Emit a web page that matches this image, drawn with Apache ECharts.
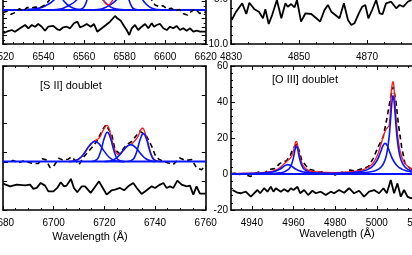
<!DOCTYPE html>
<html><head><meta charset="utf-8">
<script src="https://cdn.jsdelivr.net/npm/echarts@6/dist/echarts.min.js"></script>
<style>html,body{margin:0;padding:0;background:#fff}#c{width:412px;height:255px}</style>
</head><body><div id="c"></div>
<script>
// ---------- tick values ----------
const tlXMajor=[6520,6540,6560,6580,6600,6620];
const tlXMinor=[6525,6530,6535,6545,6550,6555,6565,6570,6575,6585,6590,6595,6605,6610,6615];
const tlYMajor=[-8,-6,-4,-2,0,2,4,6,8,10];
const tlYMinor=[-7,-5,-3,-1,1,3,5,7,9];
const trXMajor=[4830,4850,4870,4890];
const trXMinor=[4835,4840,4845,4855,4860,4865,4875,4880,4885];
const trYMajor=[-10,-5,0];
const trYMinor=[-9,-8,-7,-6,-4,-3,-2,-1];
const blXMajor=[6680,6700,6720,6740,6760];
const blXMinor=[6685,6690,6695,6705,6710,6715,6725,6730,6735,6745,6750,6755];
const blYMajor=[-8.4,-3.4,1.6,6.6,11.6,16.6];
const blYMinor=[];
const brXMajor=[4940,4960,4980,5000,5020];
const brXMinor=[4935,4945,4950,4955,4965,4970,4975,4985,4990,4995,5005,5010,5015,5025];
const brYMajor=[-20,0,20,40,60];
const brYMinor=[-16,-12,-8,-4,4,8,12,16,24,28,32,36,44,48,52,56];

// ---------- TL panel (H-alpha + [N II], only the bottom strip is visible) ----------
const tlResid=[[6520.1,-5.48],[6521.8,-5.11],[6524.3,-4.71],[6525.9,-5.11],[6528.4,-4.31],[6530.9,-3.53],[6532.5,-4.31],[6534.2,-3.53],[6535.8,-3.93],[6537.4,-3.29],[6539.1,-3.93],[6540.7,-4.87],[6542.3,-3.93],[6544.8,-3.76],[6546.8,-4.54],[6548.1,-4.71],[6549.7,-4.07],[6551.4,-3.93],[6553.1,-4.31],[6555.0,-3.13],[6556.7,-2.75],[6558.0,-4.07],[6559.6,-3.76],[6561.3,-3.29],[6563.3,-3.93],[6564.9,-3.29],[6566.5,-5.11],[6568.7,-4.31],[6570.8,-3.53],[6572.8,-2.75],[6575.3,-1.41],[6576.4,-1.95],[6578.1,-2.52],[6579.7,-3.76],[6581.0,-4.71],[6582.3,-5.88],[6583.5,-4.31],[6585.1,-3.53],[6586.7,-4.71],[6588.4,-3.93],[6590.1,-3.29],[6591.7,-4.31],[6593.4,-3.13],[6594.5,-3.93],[6595.8,-3.53],[6597.5,-3.29],[6599.1,-4.31],[6600.8,-4.71],[6602.4,-3.93],[6604.0,-4.31],[6605.7,-3.76],[6607.3,-4.71],[6608.9,-4.31],[6610.6,-4.87],[6612.3,-4.31],[6613.9,-5.11],[6615.6,-4.87],[6617.2,-5.11],[6620,-5.11]];
const tlData=[[6520,-0.6],[6522,-0.3],[6524,-1.0],[6526,-0.6],[6528,0.3],[6530,-0.2],[6532,0.6],[6534,0.5],[6536,0.7],[6538,0.5],[6540,1.0],[6542,1.8],[6544,3.0],[6546,6],[6550,12],[6560,20],[6570,8],[6580,20],[6590,6],[6593,2.6],[6595,1.2],[6597,0.8],[6599,1.0],[6601,0.2],[6603,0.4],[6605,-0.2],[6607,0.1],[6609,-0.9],[6611,-1.2],[6613,-0.3],[6615,0.2],[6617,-0.8],[6620,-0.5]];
const tlWingA1=[[6528,0.02],[6532,0.1],[6535,0.25],[6538.3,0.5],[6541,1.0],[6543.5,1.7],[6545.7,2.6],[6547,3.5]];
const tlWingA2=[[6548.5,3.5],[6549.6,2.4],[6551.5,1.4],[6553.5,0.7],[6556,0.25],[6560,0.05]];
const tlWingB1=[[6545,0.05],[6548,0.2],[6550.5,0.6],[6553,1.2],[6555.5,2.0],[6557.5,3.0],[6558.5,3.6]];
const tlWingC1=[[6557,0.05],[6559,0.3],[6560.3,1.0],[6561.3,2.2],[6562,3.5]];
const tlWingC2=[[6567.5,3.5],[6569.3,2.4],[6571.5,1.3],[6573.5,0.6],[6576,0.2],[6580,0.05]];
const tlWingD1=[[6565,0.05],[6568.5,0.25],[6571,0.7],[6573.5,1.4],[6576,2.4],[6577.5,3.5]];
const tlWingE2=[[6581.5,3.5],[6582.3,2.2],[6583.3,1.0],[6584.5,0.3],[6586.5,0.05]];
const tlWingF2=[[6587.5,3.5],[6589,2.35],[6591,1.2],[6593.5,0.4],[6596,0.1],[6600,0.02]];
const tlTotal=[[6567,4],[6569,2.6],[6571.8,1.2],[6574.5,2.6],[6576.5,4]];

// ---------- TR panel (H-beta residual) ----------
const trResid=[[4830.2,-7.30],[4831.5,-6.37],[4833.3,-5.43],[4834.5,-6.63],[4835.4,-5.36],[4836.9,-6.10],[4838.2,-6.37],[4839.4,-7.11],[4840.1,-6.10],[4841.1,-7.75],[4842.1,-6.74],[4843.5,-5.06],[4844.8,-7.11],[4846.0,-5.43],[4846.7,-5.81],[4847.7,-5.51],[4848.7,-5.88],[4849.4,-5.06],[4850.6,-7.49],[4851.9,-6.55],[4853.6,-6.63],[4855.1,-7.11],[4856.2,-7.49],[4857.5,-6.18],[4858.5,-5.62],[4859.5,-6.37],[4860.7,-6.74],[4861.9,-7.11],[4863.2,-5.43],[4864.4,-7.30],[4865.4,-7.87],[4866.3,-7.67],[4867.6,-6.55],[4868.6,-5.81],[4869.5,-5.62],[4870.4,-7.11],[4871.5,-6.18],[4872.7,-5.06],[4873.7,-6.55],[4874.6,-6.63],[4875.6,-5.43],[4877.1,-5.25],[4878.6,-5.99],[4879.6,-5.62],[4880.7,-5.81],[4882.0,-5.25],[4883.1,-5.06]];

// ---------- BL panel ([S II] doublet) ----------
const blData=[[6680,-0.1],[6682,-0.1],[6684,0.2],[6686,-0.2],[6688,0.1],[6690,-0.1],[6692,-0.35],[6694,-0.3],[6695.5,0.5],[6697,0.3],[6698.5,-1.0],[6700,-0.8],[6702,0.6],[6703.5,0.3],[6705.6,0.4],[6707,0.8],[6708.5,0.2],[6710,-0.5],[6712,0.9],[6715,2.4],[6717,3.5],[6719,5.3],[6720.6,6.4],[6722.9,4.7],[6724.2,2.1],[6726,1.4],[6728.8,2.95],[6730.8,3.5],[6734,5.3],[6736.7,4.4],[6738.7,2.65],[6740,1.2],[6741.5,0.4],[6743.3,0.05],[6745,-0.2],[6747.2,-0.5],[6749.8,0.64],[6752,0.2],[6754.5,0.35],[6756.4,-1.1],[6758.4,-1.4],[6760,-0.6]];
const blResid=[[6680,-3.82],[6682.8,-4.29],[6685.4,-3.99],[6688.7,-4.11],[6690.7,-3.99],[6692.0,-4.74],[6693.3,-4.57],[6694.9,-3.70],[6696.6,-4.17],[6697.9,-5.16],[6699.9,-5.16],[6701.4,-4.57],[6702.8,-3.59],[6704.1,-4.29],[6705.1,-4.17],[6706.8,-3.00],[6708.0,-4.57],[6709.3,-5.33],[6711.1,-4.29],[6712.4,-4.29],[6714.6,-5.43],[6716.0,-4.57],[6717.9,-3.42],[6719.0,-4.29],[6720.9,-5.73],[6722.9,-4.98],[6724.2,-4.86],[6726.2,-4.57],[6727.8,-4.98],[6729.4,-4.29],[6731.4,-3.70],[6732.8,-4.57],[6734.7,-5.61],[6736.7,-4.98],[6738.7,-4.29],[6740.0,-4.57],[6742.0,-3.99],[6743.3,-3.70],[6744.6,-4.57],[6745.9,-4.29],[6747.2,-4.57],[6748.8,-3.30],[6750.5,-3.99],[6752.5,-4.29],[6753.8,-4.17],[6755.1,-5.73],[6756.4,-4.29],[6757.7,-5.56],[6760,-5.56]];
const blS1=[[6706,0.02],[6708,0.12],[6710,0.49],[6712,1.41],[6714,2.70],[6716.3,3.5],[6718,3.03],[6720,1.78],[6722,0.71],[6724,0.19],[6726,0.03],[6728,0]];
const blS2=[[6715,0.02],[6717,0.36],[6718,1.10],[6719,2.47],[6720,4.11],[6721.2,5.1],[6722.4,4.11],[6723.4,2.47],[6724.4,1.10],[6725.4,0.36],[6727.4,0.02]];
const blS3=[[6720,0.01],[6722,0.09],[6724,0.39],[6726,1.14],[6728,2.22],[6730.4,2.95],[6732.4,2.42],[6734.4,1.34],[6736.4,0.50],[6738.4,0.13],[6740.4,0.02]];
const blS4=[[6729.2,0.02],[6731.2,0.35],[6732.2,1.04],[6733.2,2.35],[6734.2,3.92],[6735.4,4.86],[6736.6,3.92],[6737.6,2.35],[6738.6,1.04],[6739.6,0.35],[6741.6,0.02]];
const blTotal=[[6706,0.02],[6708,0.12],[6710,0.49],[6712,1.41],[6714,2.70],[6716,3.58],[6718,4.13],[6719.5,5.42],[6721,6.29],[6722.5,4.63],[6724,2.15],[6725.5,1.27],[6727,1.71],[6729,2.69],[6731,3.17],[6733,4.16],[6734.5,5.59],[6735,5.79],[6735.5,5.67],[6737,3.65],[6738.5,1.27],[6740,0.23],[6742,0.01],[6744,0]];

// ---------- BR panel ([O III] doublet) ----------
const brData=[[4930,0.3],[4932,0.4],[4934,-0.3],[4936,0.2],[4938,-0.8],[4939.5,-1.4],[4941,0.2],[4943.4,1.1],[4946,0.6],[4948.7,2.6],[4951,3.0],[4953.5,5.9],[4956.7,7.4],[4958.5,10.5],[4959.9,14.3],[4961.5,16.7],[4962.7,13.0],[4963.9,7.8],[4966.3,4.1],[4968,2.5],[4970.3,1.8],[4972,1.0],[4974.3,1.3],[4976,0.5],[4978.3,0.4],[4980,-0.6],[4982.3,1.3],[4984.5,0.6],[4987.1,2.2],[4989.5,1.6],[4992,2.6],[4994,3.2],[4995.9,4.1],[4998.3,8.7],[5000.7,15.2],[5003.1,20.7],[5004.7,30],[5006.7,43],[5007.9,48.5],[5009.2,40.2],[5010.3,28.2],[5011.9,15.2],[5013.5,5.9],[5015.9,3.2],[5018,2]];
const brResid=[[4930.7,-8.9],[4933.1,-10.4],[4934.7,-10.7],[4937.1,-9.8],[4939.5,-12.6],[4941.1,-10.7],[4942.7,-8.9],[4944.0,-10.7],[4945.9,-7.9],[4947.5,-9.8],[4949.1,-7.1],[4950.4,-9.8],[4951.5,-7.9],[4953.9,-9.8],[4955.5,-8.5],[4957.4,-9.8],[4958.7,-7.9],[4960.0,-8.9],[4961.9,-7.1],[4963.2,-10.7],[4965.1,-8.9],[4967.0,-11.7],[4969.1,-9.3],[4970.7,-10.7],[4973.1,-9.8],[4975.5,-11.7],[4977.9,-9.8],[4979.5,-10.7],[4981.9,-8.9],[4984.3,-10.4],[4986.7,-7.9],[4989.1,-10.7],[4991.5,-9.3],[4993.9,-12.6],[4996.3,-9.8],[4998.7,-8.9],[5001.1,-10.7],[5003.2,-7.9],[5004.8,-10.7],[5006.7,-3.3],[5008.3,-10.7],[5009.9,-5.2],[5011.5,-12.6],[5013.1,-8.9],[5014.7,-12.6],[5016.3,-13.5],[5018.2,-12.8]];
const brC1=[[4941.4,0.11],[4949.4,0.30],[4953.4,0.67],[4955.4,1.16],[4957.4,2.37],[4958.4,3.77],[4959.4,6.50],[4959.9,8.72],[4960.4,11.52],[4960.9,14.27],[4961.4,15.5],[4961.9,14.27],[4962.4,11.52],[4962.9,8.72],[4963.4,6.50],[4964.4,3.77],[4965.4,2.37],[4967.4,1.16],[4969.4,0.67],[4973.4,0.30],[4981.4,0.11]];
const brC2=[[4932.3,0.13],[4942.3,0.35],[4947.3,0.72],[4949.3,1.04],[4951.3,1.6],[4953.3,2.6],[4954.3,3.33],[4955.3,4.16],[4956.3,4.89],[4957.3,5.2],[4958.3,4.89],[4959.3,4.16],[4960.3,3.33],[4961.3,2.6],[4963.3,1.6],[4965.3,1.04],[4967.3,0.72],[4972.3,0.35],[4982.3,0.13]];
const brC3=[[4977.8,0.16],[4987.8,0.35],[4992.8,0.62],[4997.8,1.36],[4999.8,2.10],[5001.8,3.59],[5002.8,4.99],[5003.8,7.32],[5004.8,11.5],[5005.8,19.5],[5006.3,25.7],[5006.8,33.2],[5007.3,40.4],[5007.8,43.5],[5008.3,40.4],[5008.8,33.2],[5009.3,25.7],[5009.8,19.5],[5010.8,11.5],[5011.8,7.32],[5012.8,4.99],[5013.8,3.59],[5015.8,2.10],[5017.8,1.36]];
const brC4=[[4964,0.13],[4974,0.23],[4984,0.51],[4989,0.88],[4992,1.33],[4994,1.86],[4996,2.73],[4998,4.32],[5000,7.37],[5001,9.80],[5002,12.82],[5003,15.72],[5004,17],[5005,15.72],[5006,12.82],[5007,9.80],[5008,7.37],[5010,4.32],[5012,2.73],[5014,1.86],[5016,1.33],[5019,0.88]];
const brTotal=[[4930,0.22],[4940,0.44],[4945,0.76],[4950,1.65],[4953,3.14],[4955,5.05],[4957,7.30],[4958.5,8.85],[4959.5,11.0],[4960.4,14.89],[4961,17.61],[4961.4,18.16],[4962,16.08],[4962.6,12.37],[4963.5,7.80],[4965,4.07],[4967,2.12],[4970,1.28],[4975,0.85],[4980,0.81],[4985,0.99],[4990,1.56],[4993,2.29],[4996,3.78],[4998,5.77],[5000,9.52],[5002,16.39],[5003,20.55],[5004,23.8],[5005,25.6],[5006,27.3],[5006.8,43.7],[5007.3,49.4],[5007.8,51.3],[5008.3,47.2],[5008.8,39.1],[5009.5,27.9],[5010.5,17.2],[5012,9.48],[5014,5.24],[5017,2.7]];

// ---------- layout ----------
const FONT='Liberation Sans, Arial, Helvetica, sans-serif';
const panels=[
  {left:3, top:-32.5, width:202.7, height:76.5, x:[6520,6620], y:[-8,10], xM:tlXMajor, xm:tlXMinor, yM:tlYMajor, ym:tlYMinor, yLab:false, yFmt:null},
  {left:231, top:-45, width:204, height:89, x:[4830,4890], y:[-10,0], xM:trXMajor, xm:trXMinor, yM:trYMajor, ym:trYMinor, yLab:true, yFmt:v=>v.toFixed(1)},
  {left:3, top:66, width:202.7, height:144, x:[6680,6760], y:[-8.4,16.6], xM:blXMajor, xm:blXMinor, yM:blYMajor, ym:blYMinor, yLab:false, yFmt:null},
  {left:231, top:66, width:208.3, height:144, x:[4930,5030], y:[-20,60], xM:brXMajor, xm:brXMinor, yM:brYMajor, ym:brYMinor, yLab:true, yFmt:v=>String(v)}
];
const grid=[],xAxis=[],yAxis=[];
const lineBlack={color:'#000',width:1.6};
panels.forEach((p,g)=>{
  grid.push({left:p.left,top:p.top,width:p.width,height:p.height,containLabel:false,outerBoundsMode:'none'});
  const base={gridIndex:g,type:'value',splitLine:{show:false},axisPointer:{show:false}};
  ['bottom','top'].forEach(pos=>{
    xAxis.push(Object.assign({},base,{min:p.x[0],max:p.x[1],position:pos,
      axisLine:{show:true,onZero:false,lineStyle:lineBlack},
      axisTick:{show:true,inside:true,length:4,customValues:p.xM,lineStyle:{color:'#000',width:1}},
      axisLabel:{show:pos==='bottom',customValues:p.xM,color:'#000',fontFamily:FONT,fontSize:10,margin:8,hideOverlap:false,showMinLabel:true,showMaxLabel:true,formatter:v=>String(v)}}));
    xAxis.push(Object.assign({},base,{min:p.x[0],max:p.x[1],position:pos,
      axisLine:{show:false,onZero:false},
      axisTick:{show:p.xm.length>0,inside:true,length:2,customValues:p.xm,lineStyle:{color:'#000',width:1}},
      axisLabel:{show:false}}));
  });
  ['left','right'].forEach(pos=>{
    yAxis.push(Object.assign({},base,{min:p.y[0],max:p.y[1],position:pos,
      axisLine:{show:true,onZero:false,lineStyle:lineBlack},
      axisTick:{show:true,inside:true,length:4,customValues:p.yM,lineStyle:{color:'#000',width:1}},
      axisLabel:{show:p.yLab&&pos==='left',customValues:p.yM,color:'#000',fontFamily:FONT,fontSize:10,margin:3,showMinLabel:true,showMaxLabel:true,formatter:p.yFmt||(v=>'')}}));
    yAxis.push(Object.assign({},base,{min:p.y[0],max:p.y[1],position:pos,
      axisLine:{show:false,onZero:false},
      axisTick:{show:p.ym.length>0,inside:true,length:2,customValues:p.ym.length?p.ym:undefined,lineStyle:{color:'#000',width:1}},
      axisLabel:{show:false}}));
  });
});
const series=[];
function add(g,data,color,width,opts){
  series.push(Object.assign({type:'line',xAxisIndex:4*g,yAxisIndex:4*g,data:data,showSymbol:false,symbol:'none',
    silent:true,clip:true,animation:false,lineStyle:{color:color,width:width}},opts||{}));
}
const BLUE='#0a14ff',RED='#ff1a1a';
const dashStyle={color:'#000',width:1.6,type:[5,3.5]};
// TL
add(0,[[6520,0],[6620,0]],BLUE,2);
[tlWingA1,tlWingA2,tlWingB1,tlWingC1,tlWingC2,tlWingD1,tlWingE2,tlWingF2].forEach(c=>add(0,c,BLUE,1.6,{smooth:true}));
add(0,tlTotal,RED,1.3,{smooth:true});
add(0,tlData,'#000',1.6,{lineStyle:dashStyle});
add(0,tlResid,'#000',1.8);
// TR
add(1,trResid,'#000',1.8);
// BL
add(2,blData,'#000',1.6,{lineStyle:dashStyle});
add(2,blTotal,RED,1.3,{smooth:true});
[blS1,blS2,blS3,blS4].forEach(c=>add(2,c,BLUE,1.6,{smooth:true}));
add(2,[[6680,0],[6760,0]],BLUE,2);
add(2,blResid,'#000',1.8);
// BR
add(3,brData,'#000',1.6,{lineStyle:dashStyle});
add(3,brTotal,RED,1.3,{smooth:true});
[brC1,brC2,brC3,brC4].forEach(c=>add(3,c,BLUE,1.6,{smooth:true}));
add(3,[[4930,0],[5030,0]],BLUE,2);
add(3,brResid,'#000',1.8);

const txt=(t,x,y,size,align)=>({type:'text',x:x,y:y,silent:true,style:{text:t,fill:'#000',font:size+'px '+FONT,textAlign:align||'left',textVerticalAlign:'middle'}});
const chart=echarts.init(document.getElementById('c'),null,{renderer:'canvas'});
chart.setOption({animation:false,backgroundColor:'#fff',grid,xAxis,yAxis,series,
  graphic:[txt('[S II] doublet',40,86,11),txt('[O III] doublet',272,80,11),
           txt('Wavelength (Å)',90,237,11,'center'),txt('Wavelength (Å)',337,234,11,'center')]});
</script></body></html>
